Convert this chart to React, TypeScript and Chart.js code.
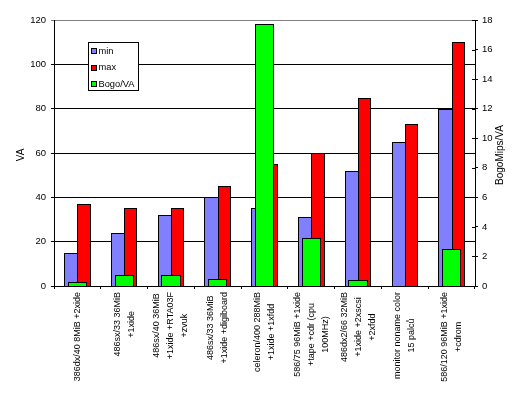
import React, { useEffect, useRef } from "react";
import { Chart, registerables } from "chart.js";

Chart.register(...registerables);

const categories: string[][] = [
  ["386dx/40 8MiB +2xide"],
  ["486sx/33 36MiB", "+1xide"],
  ["486sx/40 36MiB", "+1xide +RTA03F", "+zvuk"],
  ["486sx/33 36MiB", "+1xide +digiboard"],
  ["celeron/400 288MiB", "+1xide +1xfdd"],
  ["586/75 96MiB +1xide", "+tape +cdr (cpu", "100MHz)"],
  ["486dx2/66 32MiB", "+1xide +2xscsi", "+2xfdd"],
  ["monitor noname color", "15 palců"],
  ["586/120 96MiB +1xide", "+cdrom"],
];

const minVA = [15, 24, 32, 40, 35, 31, 52, 65, 80];
const maxVA = [37, 35, 35, 45, 55, 60, 85, 73, 110];
const bogoPerVA = [0.25, 0.72, 0.72, 0.45, 17.7, 3.24, 0.38, 0, 2.49];

const seriesNames = ["min", "max", "Bogo/VA"];
const seriesColors = ["#8080FF", "#FF0000", "#00FF00"];

const leftTitle = "VA";
const rightTitle = "BogoMips/VA";

const FONT = "Arial, 'Liberation Sans', sans-serif";

// snap bar edges to whole pixels so the 1px outlines stay crisp
const snapPlugin = {
  id: "snap",
  beforeDatasetsDraw(chart: any) {
    chart.data.datasets.forEach((_: any, di: number) => {
      const meta = chart.getDatasetMeta(di);
      meta.data.forEach((el: any) => {
        const l = Math.round(el.x - el.width / 2);
        const r = Math.round(el.x + el.width / 2);
        el.x = (l + r) / 2;
        el.width = r - l;
        el.y = Math.round(el.y);
        el.base = Math.round(el.base);
      });
    });
  },
};

const overlayPlugin = {
  id: "overlay",
  afterDraw(chart: any) {
    const ctx = chart.ctx as CanvasRenderingContext2D;
    const area = chart.chartArea;
    const xs = chart.scales.x;
    const y1 = chart.scales.y1;

    ctx.save();
    ctx.fillStyle = "#000";
    ctx.strokeStyle = "#000";
    ctx.lineWidth = 1;

    // inner half of right axis cross ticks
    y1.ticks.forEach((t: any) => {
      const py = Math.round(y1.getPixelForValue(t.value)) + 0.5;
      ctx.beginPath();
      ctx.moveTo(area.right - 3, py);
      ctx.lineTo(area.right, py);
      ctx.stroke();
    });

    // x category labels, rotated, centered lines
    ctx.font = `9px ${FONT}`;
    ctx.textAlign = "center";
    ctx.textBaseline = "middle";
    const lh = 14;
    categories.forEach((lines, i) => {
      const cx = xs.getPixelForValue(i);
      const w = Math.max(...lines.map((l) => ctx.measureText(l).width));
      const cy = area.bottom + 6 + w / 2;
      lines.forEach((line, j) => {
        const lx = cx + (j - (lines.length - 1) / 2) * lh;
        ctx.save();
        ctx.translate(lx, cy);
        ctx.rotate(-Math.PI / 2);
        ctx.fillText(line, 0, 0);
        ctx.restore();
      });
    });

    // axis titles
    ctx.font = `10px ${FONT}`;
    const midY = (area.top + area.bottom) / 2 + 2;
    ctx.save();
    ctx.translate(21, midY);
    ctx.rotate(-Math.PI / 2);
    ctx.fillText(leftTitle, 0, 0);
    ctx.restore();
    ctx.save();
    ctx.translate(chart.width - 24, midY);
    ctx.rotate(-Math.PI / 2);
    ctx.fillText(rightTitle, 0, 0);
    ctx.restore();

    // legend box
    const lx = area.left + 34;
    const ly = area.top + 22;
    const lw = 50;
    const lhgt = 48;
    ctx.fillStyle = "#fff";
    ctx.fillRect(lx, ly, lw, lhgt);
    ctx.strokeRect(lx + 0.5, ly + 0.5, lw, lhgt);
    ctx.font = `9.3px ${FONT}`;
    ctx.textAlign = "left";
    seriesNames.forEach((name, k) => {
      const iy = ly + 9 + k * 16.6;
      ctx.fillStyle = seriesColors[k];
      ctx.fillRect(lx + 3, Math.round(iy - 3), 6, 6);
      ctx.strokeStyle = "#000";
      ctx.strokeRect(lx + 3.5, Math.round(iy - 3) + 0.5, 5, 5);
      ctx.fillStyle = "#000";
      ctx.fillText(name, lx + 10.5, iy);
    });
    ctx.restore();
  },
};

export default function App() {
  const ref = useRef<HTMLCanvasElement | null>(null);

  useEffect(() => {
    if (!ref.current) return;
    const chart = new Chart(ref.current, {
      type: "bar",
      data: {
        labels: categories.map((c) => c.join(" ")),
        datasets: [
          {
            label: seriesNames[0],
            data: minVA,
            backgroundColor: seriesColors[0],
            borderColor: "#000",
            borderWidth: { top: 1, left: 1, right: 0, bottom: 0 },
            borderSkipped: false,
            yAxisID: "y",
            categoryPercentage: 0.566,
            barPercentage: 1,
            order: 0,
          },
          {
            label: seriesNames[1],
            data: maxVA,
            backgroundColor: seriesColors[1],
            borderColor: "#000",
            borderWidth: { top: 1, left: 1, right: 1, bottom: 0 },
            borderSkipped: false,
            yAxisID: "y",
            categoryPercentage: 0.566,
            barPercentage: 1,
            order: 0,
          },
          {
            label: seriesNames[2],
            data: bogoPerVA,
            backgroundColor: seriesColors[2],
            borderColor: "#000",
            borderWidth: { top: 1, left: 1, right: 1, bottom: 0 },
            borderSkipped: false,
            yAxisID: "y1",
            grouped: false,
            categoryPercentage: 1,
            barPercentage: 0.41,
            order: -1,
          },
        ] as any,
      },
      options: {
        responsive: false,
        animation: false,
        layout: { padding: { top: 20, left: 0, right: 0, bottom: 0 } },
        plugins: {
          legend: { display: false },
          tooltip: { enabled: false },
          title: { display: false },
        },
        scales: {
          x: {
            type: "category",
            offset: true,
            grid: {
              offset: true,
              drawOnChartArea: false,
              color: "#000",
              tickLength: 3,
            },
            border: { color: "#000", width: 1 },
            ticks: { display: false },
            afterFit: (s: any) => {
              s.height = 111;
            },
          },
          y: {
            position: "left",
            min: 0,
            max: 120,
            ticks: {
              stepSize: 20,
              color: "#000",
              padding: 5,
              font: { family: FONT, size: 9.5 },
            },
            grid: {
              color: (c: any) =>
                c.tick && c.tick.value === 120 ? "#808080" : "#000",
              tickLength: 3,
            },
            border: { color: "#000", width: 1 },
            afterFit: (s: any) => {
              s.width = 54;
            },
          },
          y1: {
            position: "right",
            min: 0,
            max: 18,
            ticks: {
              stepSize: 2,
              color: "#000",
              padding: 4,
              font: { family: FONT, size: 9.5 },
            },
            grid: {
              drawOnChartArea: false,
              color: "#000",
              tickLength: 3,
            },
            border: { color: "#000", width: 1 },
            afterFit: (s: any) => {
              s.width = 49;
            },
          },
        },
      } as any,
      plugins: [snapPlugin, overlayPlugin],
    });
    return () => chart.destroy();
  }, []);

  return (
    <div style={{ position: "absolute", left: 0, top: 0, width: 524, height: 397, background: "#fff" }}>
      <canvas ref={ref} width={524} height={397} style={{ display: "block" }} />
    </div>
  );
}
